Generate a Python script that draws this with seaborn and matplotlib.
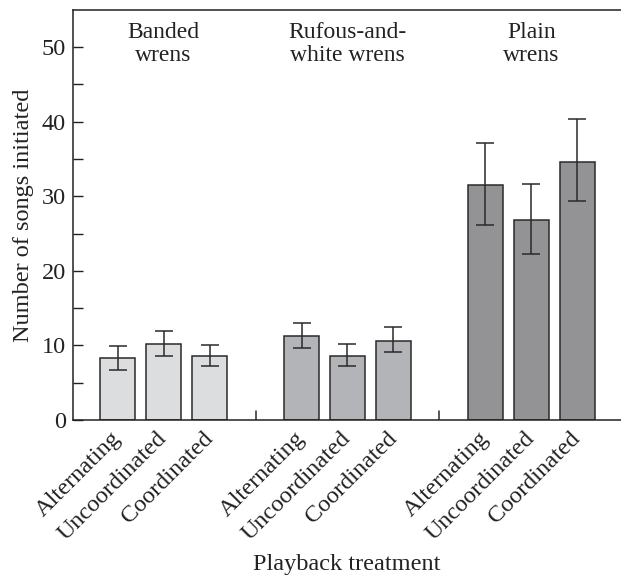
import matplotlib
matplotlib.use("Agg")
import matplotlib.pyplot as plt
import seaborn as sns
import pandas as pd
import numpy as np

# ---- data ----
groups = ["Banded\nwrens", "Rufous-and-\nwhite wrens", "Plain\nwrens"]
treatments = ["Alternating", "Uncoordinated", "Coordinated"]
means = [8.3, 10.2, 8.6,
         11.2, 8.6, 10.6,
         31.5, 26.8, 34.6]
err_low = [6.7, 8.6, 7.3,
           9.6, 7.3, 9.1,
           26.2, 22.3, 29.4]
err_high = [9.9, 11.9, 10.1,
            13.0, 10.2, 12.5,
            37.2, 31.7, 40.3]
colors = ["#dcdddf", "#b3b4b7", "#929397"]

# ---- build table ----
rows = []
for gi, g in enumerate(groups):
    for ti, t in enumerate(treatments):
        k = gi * 3 + ti
        rows.append(dict(group=g, treatment=t, pos=gi * 4 + ti,
                         mean=means[k], lo=err_low[k], hi=err_high[k]))
df = pd.DataFrame(rows)

sns.set_theme(style="ticks")
plt.rcParams["font.family"] = ["Liberation Serif", "DejaVu Serif"]

fig = plt.figure(figsize=(6.21, 5.79), dpi=100)
ax = fig.add_axes([0.1176, 0.2746, 0.8824, 0.7084])

sns.barplot(data=df, x="pos", y="mean", hue="group", palette=colors,
            native_scale=True, dodge=False, width=0.76, legend=False,
            edgecolor="#2a2a2a", linewidth=1.1, errorbar=None, ax=ax)

ax.errorbar(df["pos"], df["mean"],
            yerr=[df["mean"] - df["lo"], df["hi"] - df["mean"]],
            fmt="none", ecolor="#2a2a2a", elinewidth=1.1, capsize=6.5, capthick=1.1)

# group separators
for gi in range(1, len(groups)):
    ax.axvline(gi * 4 - 1, ymin=0, ymax=0.022, color="#2a2a2a", lw=1.1)

# group titles
for gi, g in enumerate(groups):
    ax.text(gi * 4 + 1, 50.4, g, ha="center", va="center", fontsize=17,
            color="#222222", linespacing=1.1)

ax.set_xlim(-0.97, 10.95)
ax.set_ylim(0, 55)
ax.set_yticks(range(0, 51, 10))
ax.set_yticks(range(5, 51, 10), minor=True)
ax.tick_params(axis="y", which="both", direction="in", length=7, width=1,
               labelsize=17.5, colors="#222222", pad=5)
ax.set_xticks(df["pos"])
ax.set_xticklabels(df["treatment"], rotation=45, ha="right", va="center",
                   rotation_mode="anchor", fontsize=17.5, color="#222222")
ax.tick_params(axis="x", length=0, pad=11)

for s in ["left", "top", "bottom"]:
    ax.spines[s].set_color("#222222")
    ax.spines[s].set_linewidth(1.1)
ax.spines["right"].set_visible(False)

ax.set_xlabel("Playback treatment", fontsize=17.5, color="#222222", labelpad=7)
ax.set_ylabel("Number of songs initiated", fontsize=17.5, color="#222222", labelpad=6)

fig.savefig("out.png", dpi=100)
